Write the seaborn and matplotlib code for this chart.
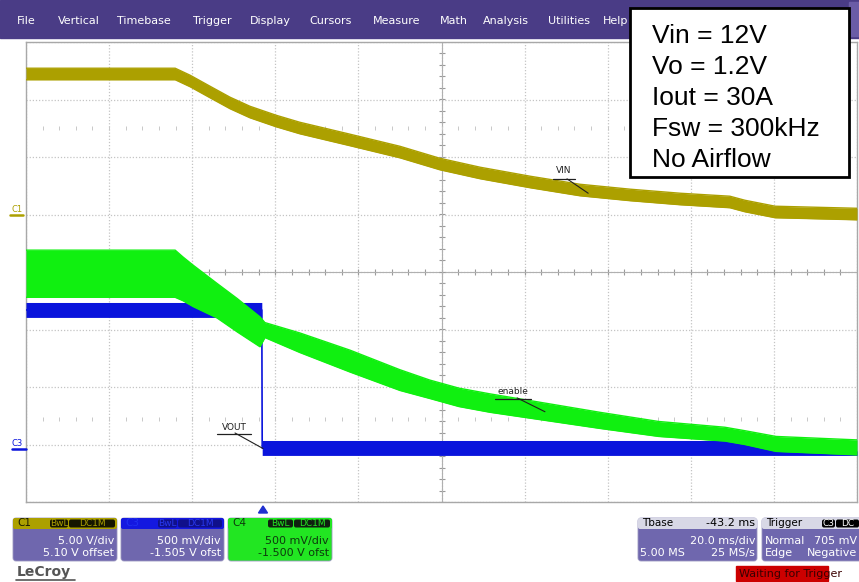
import numpy as np
import pandas as pd
import matplotlib.pyplot as plt
import seaborn as sns
from matplotlib.patches import Rectangle, FancyBboxPatch, Polygon

# time (ms, relative to trigger) and volts
vin_t = [-56.8, -20.9, -17.3, -12.5, -7.7, -2.9, 3.4, 9.1, 21.2, 33.2, 42.8, 52.5,
         64.5, 76.5, 88.6, 100.6, 112.6, 116.2, 123.5, 143.2]
vin_v = [12.12, 12.12, 11.51, 10.55, 9.60, 8.81, 8.03, 7.42, 6.38, 5.33, 4.29, 3.51,
         2.73, 2.03, 1.60, 1.25, 0.99, 0.64, 0.12, -0.06]
vin_pp = 1.0

en_t = [-56.8, -20.9, -19.0, -16.6, -10.8, -6.0, -0.5, 0.7, 9.1, 21.2, 33.2, 40.4,
        47.4, 54.9, 68.1, 81.3, 95.5, 111.4, 116.2, 123.7, 143.2]
en_hi = [1.69, 1.69, 1.63, 1.56, 1.40, 1.27, 1.11, 1.06, 0.97, 0.82, 0.65, 0.56,
         0.49, 0.44, 0.36, 0.28, 0.20, 0.15, 0.12, 0.07, 0.04]
en_lo = [1.28, 1.28, 1.25, 1.20, 1.10, 0.98, 0.85, 0.93, 0.80, 0.63, 0.47, 0.40,
         0.33, 0.28, 0.21, 0.14, 0.07, 0.03, 0.00, -0.06, -0.09]

vout_t = [-56.8, -0.05, 0.05, 116.2, 123.7, 143.2]
vout_hi = [1.24, 1.24, 0.04, 0.04, -0.05, -0.05]
vout_lo = [1.11, 1.11, -0.09, -0.09, -0.09, -0.09]

# channel settings (V/div, offset)
c1_vdiv, c1_ofs = 5.0, 5.10
c3_vdiv, c3_ofs = 0.5, -1.505
c4_vdiv, c4_ofs = 0.5, -1.500
tbase_div, tbase_delay = 20.0, -43.2

info_lines = ["Vin = 12V", "Vo = 1.2V", "Iout = 30A", "Fsw = 300kHz", "No Airflow"]
menu = ["File", "Vertical", "Timebase", "Trigger", "Display", "Cursors", "Measure",
        "Math", "Analysis", "Utilities", "Help"]
menu_x = [17, 58, 117, 193, 250, 309, 373, 440, 483, 548, 603]

OLIVE = '#aca000'
GREEN = '#10f010'
BLUE = '#0a14dc'
PURPLE = '#6f67ae'


def to_div(v, vdiv, ofs):
    return (np.array(v) + ofs) / vdiv


sns.set_style("white")
plt.rcParams['font.family'] = ['DejaVu Sans']

fig = plt.figure(figsize=(8.59, 5.82), dpi=100)
ax = fig.add_axes([26 / 859, 80 / 582, 831 / 859, 460 / 582])

tc = -tbase_delay
t0 = tc - 5 * tbase_div
t1 = tc + 5 * tbase_div
ax.set_xlim(t0, t1)
ax.set_ylim(-4, 4)
ax.set_xticks(np.arange(t0, t1 + 0.1, tbase_div))
ax.set_yticks(range(-4, 5))
ax.grid(True, color='#c4c4c4', ls=(0, (1, 1.5)), lw=0.9)
ax.tick_params(length=0, labelbottom=False, labelleft=False)
for s in ax.spines.values():
    s.set_color('#a8a8a8')
    s.set_linewidth(1)

# centre graticule with small ticks
xt = np.arange(t0, t1 + 0.1, tbase_div / 5)
ax.plot(xt, np.zeros_like(xt), ls='none', marker='|', ms=4, color='#9a9a9a', mew=0.8)
ax.axhline(0, color='#b0b0b0', lw=0.8)
yt = np.arange(-4, 4.01, 0.2)
ax.plot(np.full_like(yt, tc), yt, ls='none', marker='_', ms=4, color='#9a9a9a', mew=0.8)
ax.axvline(tc, color='#b0b0b0', lw=0.8)
for yr in (2.5, -2.55):
    ax.plot(xt, np.full_like(xt, yr), ls='none', marker='|', ms=3, color='#c8c8c8', mew=0.7)

# VIN (C1)
vc = to_div(vin_v, c1_vdiv, c1_ofs)
vh = vc + vin_pp / 2 / c1_vdiv
vl = vc - vin_pp / 2 / c1_vdiv
ax.fill_between(vin_t, vl, vh, color=OLIVE, lw=0, zorder=3)
sns.lineplot(x=vin_t, y=vh, color=OLIVE, lw=1, ax=ax, estimator=None, sort=False, zorder=3)
sns.lineplot(x=vin_t, y=vl, color=OLIVE, lw=1, ax=ax, estimator=None, sort=False, zorder=3)

# VOUT (C3)
oh = to_div(vout_hi, c3_vdiv, c3_ofs)
ol = to_div(vout_lo, c3_vdiv, c3_ofs)
ax.fill_between(vout_t, ol, oh, color=BLUE, lw=0, zorder=4)
sns.lineplot(x=vout_t, y=(oh + ol) / 2, color=BLUE, lw=1.2, ax=ax, estimator=None, sort=False, zorder=4)

# enable (C4)
eh = to_div(en_hi, c4_vdiv, c4_ofs)
el = to_div(en_lo, c4_vdiv, c4_ofs)
ax.fill_between(en_t, el, eh, color=GREEN, lw=0, zorder=5)
sns.lineplot(x=en_t, y=eh, color=GREEN, lw=1, ax=ax, estimator=None, sort=False, zorder=5)
sns.lineplot(x=en_t, y=el, color=GREEN, lw=1, ax=ax, estimator=None, sort=False, zorder=5)

# trace labels
for name, tx, ty, lx0, ly0, lx1, ly1, w in [
        ("VIN", 72.7, 1.76, 73.4, 1.62, 78.5, 1.37, 4.5),
        ("enable", 60.4, -2.07, 61.4, -2.19, 68.1, -2.43, 8.0),
        ("VOUT", -6.7, -2.70, -6.5, -2.80, 0.24, -3.07, 7.5)]:
    ax.text(tx, ty, name, fontsize=6.5, ha='center', va='center', color='#202020', zorder=6)
    ax.plot([tx - w / 2 - 0.3, tx + w / 2 + 0.3], [ly0 - 0.01, ly0 - 0.01], color='#202020', lw=0.9, zorder=6)
    ax.plot([lx0, lx1], [ly0, ly1], color='#202020', lw=0.8, zorder=6)

# screen furniture in pixel coordinates
ui = fig.add_axes([0, 0, 1, 1], zorder=3)
ui.set_xlim(0, 859)
ui.set_ylim(582, 0)
ui.axis('off')

ui.add_patch(Rectangle((0, 0), 859, 38, color='#4a3c86'))
ui.add_patch(Rectangle((849, 2), 10, 34, color='#6a5ca6'))
for m, x in zip(menu, menu_x):
    ui.text(x, 21, m, color='white', fontsize=8, va='center', ha='left')

# channel ground markers
ui.text(11, 209, "C1", color=OLIVE, fontsize=6, va='center')
ui.plot([10, 23], [215, 215], color=OLIVE, lw=1.8)
ui.text(12, 443, "C3", color=BLUE, fontsize=6, va='center')
ui.plot([12, 26], [449, 449], color=BLUE, lw=1.8)

# trigger position marker
ui.add_patch(Polygon([(258.5, 513), (267.5, 513), (263, 506)], color='#2030d0'))


def box(x0, x1, head, body, title, title_c, badges, badge_fc, badge_tc, lines):
    ui.add_patch(FancyBboxPatch((x0, 518), x1 - x0, 43, boxstyle='round,pad=0,rounding_size=3',
                                fc=body, ec='#9a96c0', lw=0.6))
    ui.add_patch(FancyBboxPatch((x0, 518), x1 - x0, 11, boxstyle='round,pad=0,rounding_size=2',
                                fc=head, ec='none'))
    ui.text(x0 + 4, 523.5, title, color=title_c, fontsize=7.5, va='center')
    for (b, bx0, bx1) in badges:
        ui.add_patch(FancyBboxPatch((bx0, 519.5), bx1 - bx0, 8, boxstyle='round,pad=0,rounding_size=2',
                                    fc=badge_fc, ec='none'))
        ui.text((bx0 + bx1) / 2, 523.5, b, color=badge_tc, fontsize=6.5, va='center', ha='center')
    for (s, xx, yy, ha, c) in lines:
        ui.text(xx, yy, s, color=c, fontsize=8, va='center', ha=ha)


box(13, 117, OLIVE, PURPLE, "C1", '#1a1a00', [("BwL", 50, 68), ("DC1M", 69, 115)], '#151500', OLIVE,
    [("5.00 V/div", 114, 541, 'right', 'white'), ("5.10 V offset", 114, 553, 'right', 'white')])
box(121, 224, '#1418e0', PURPLE, "C3", '#2030f0', [("BwL", 158, 177), ("DC1M", 178, 222)], '#10108a', '#2838f0',
    [("500 mV/div", 221, 541, 'right', 'white'), ("-1.505 V ofst", 221, 553, 'right', 'white')])
box(228, 332, '#22e622', '#22e622', "C4", '#0d3a0d', [("BwL", 268, 293), ("DC1M", 294, 330)], '#102010', '#22e622',
    [("500 mV/div", 329, 541, 'right', '#0d3a0d'), ("-1.500 V ofst", 329, 553, 'right', '#0d3a0d')])
box(638, 757, '#d8d8e6', PURPLE, "Tbase", 'black', [], 'black', 'white',
    [("-43.2 ms", 755, 523.5, 'right', 'black'), ("20.0 ms/div", 755, 541, 'right', 'white'),
     ("5.00 MS", 640, 553, 'left', 'white'), ("25 MS/s", 755, 553, 'right', 'white')])
box(762, 880, '#d8d8e6', PURPLE, "Trigger", 'black', [("C3", 822, 835), ("DC", 836, 859)], 'black', 'white',
    [("Normal", 765, 541, 'left', 'white'), ("705 mV", 857, 541, 'right', 'white'),
     ("Edge", 765, 553, 'left', 'white'), ("Negative", 857, 553, 'right', 'white')])

ui.text(17, 572, "LeCroy", color='#555555', fontsize=10, fontweight='bold', va='center')
ui.plot([16, 75], [580, 580], color='#555555', lw=1.2)

ui.add_patch(Rectangle((736, 566), 92, 15, color='#cc0000'))
ui.text(739, 574, "Waiting for Trigger", color='#3a0000', fontsize=8, va='center')

# test conditions box
ui.add_patch(Rectangle((630, 8), 219, 169, fc='white', ec='black', lw=2))
for i, s in enumerate(info_lines):
    ui.text(652, 43 + i * 31, s, fontsize=19, family='Liberation Sans', va='baseline', color='black')

fig.savefig('out.png', dpi=100)
